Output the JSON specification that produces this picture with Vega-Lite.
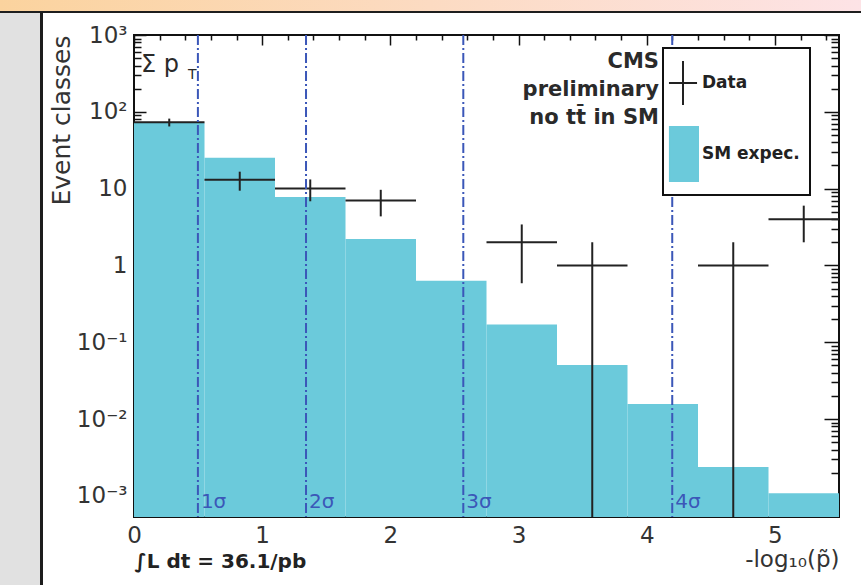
{
  "$schema": "https://vega.github.io/schema/vega-lite/v6.json",
  "padding": 0,
  "spacing": 0,
  "background": "white",
  "config": {
    "view": {"stroke": null},
    "axis": {"grid": false, "domain": false},
    "concat": {"spacing": 0}
  },
  "datasets": {
    "hist": [
      {"lo": 0.0, "hi": 0.55, "sm": 72, "series": "SM expec."},
      {"lo": 0.55, "hi": 1.1, "sm": 25.3, "series": "SM expec."},
      {"lo": 1.1, "hi": 1.65, "sm": 7.8, "series": "SM expec."},
      {"lo": 1.65, "hi": 2.2, "sm": 2.2, "series": "SM expec."},
      {"lo": 2.2, "hi": 2.75, "sm": 0.63, "series": "SM expec."},
      {"lo": 2.75, "hi": 3.3, "sm": 0.17, "series": "SM expec."},
      {"lo": 3.3, "hi": 3.85, "sm": 0.0506, "series": "SM expec."},
      {"lo": 3.85, "hi": 4.4, "sm": 0.0157, "series": "SM expec."},
      {"lo": 4.4, "hi": 4.95, "sm": 0.00237, "series": "SM expec."},
      {"lo": 4.95, "hi": 5.5, "sm": 0.00108, "series": "SM expec."}
    ],
    "obs": [
      {"x": 0.275, "xlo": 0.0, "xhi": 0.55, "n": 73, "elo": 64.46, "ehi": 81.54},
      {"x": 0.825, "xlo": 0.55, "xhi": 1.1, "n": 13, "elo": 9.39, "ehi": 16.61},
      {"x": 1.375, "xlo": 1.1, "xhi": 1.65, "n": 10, "elo": 6.84, "ehi": 13.16},
      {"x": 1.925, "xlo": 1.65, "xhi": 2.2, "n": 7, "elo": 4.35, "ehi": 9.65},
      {"x": 3.025, "xlo": 2.75, "xhi": 3.3, "n": 2, "elo": 0.586, "ehi": 3.414},
      {"x": 3.575, "xlo": 3.3, "xhi": 3.85, "n": 1, "elo": 0, "ehi": 2},
      {"x": 4.675, "xlo": 4.4, "xhi": 4.95, "n": 1, "elo": 0, "ehi": 2},
      {"x": 5.225, "xlo": 4.95, "xhi": 5.5, "n": 4, "elo": 2, "ehi": 6}
    ],
    "sigma": [
      {"sig": 0.4985, "lab": "1σ"},
      {"sig": 1.342, "lab": "2σ"},
      {"sig": 2.569, "lab": "3σ"},
      {"sig": 4.199, "lab": "4σ"}
    ]
  },
  "vconcat": [
    {
      "data": {"values": []},
      "mark": "rect",
      "width": 861,
      "height": 11,
      "view": {"stroke": null, "fill": {"gradient": "linear", "stops": [{"offset": 0, "color": "#fbd39e"}, {"offset": 0.5, "color": "#fcdbc2"}, {"offset": 1, "color": "#fde3e6"}]}}
    },
    {
      "data": {"values": []},
      "mark": "rect",
      "width": 861,
      "height": 2,
      "view": {"stroke": null, "fill": "#1e1e1e"}
    },
    {
      "hconcat": [
        {
          "data": {"values": []},
          "mark": "rect",
          "width": 43,
          "height": 572,
          "view": {"stroke": null, "fill": {"gradient": "linear", "stops": [{"offset": 0, "color": "#e1e1e1"}, {"offset": 0.93, "color": "#e1e1e1"}, {"offset": 0.931, "color": "#1c1c1c"}, {"offset": 1, "color": "#1c1c1c"}]}}
        },
        {
          "spacing": 0,
          "vconcat": [
            {
              "data": {"values": []},
              "mark": "rect",
              "width": 705,
              "height": 10,
              "view": {"stroke": null}
            },
            {
              "width": 705,
              "height": 482,
              "view": {"stroke": "#111111", "strokeWidth": 2, "fill": "white"},
              "layer": [
                {
                  "data": {"name": "hist"},
                  "mark": {"type": "bar"},
                  "encoding": {
                    "x": {"field": "lo", "type": "quantitative", "scale": {"domain": [0, 5.5], "nice": false, "zero": false},
                      "axis": {"orient": "bottom", "values": [0, 1, 2, 3, 4, 5], "ticks": false, "domain": false, "labelFont": "DejaVu Sans", "labelFontSize": 23, "labelColor": "#333333", "labelPadding": 7, "labelFlush": false, "labelOverlap": false,
                        "title": "-log₁₀(p̃)", "titleFont": "DejaVu Sans", "titleFontSize": 23, "titleFontWeight": "normal", "titleColor": "#333333", "titleAnchor": "end", "titlePadding": 1}},
                    "x2": {"field": "hi"},
                    "y": {"field": "sm", "type": "quantitative", "scale": {"type": "log", "domain": [0.00053, 1000], "nice": false, "clamp": true},
                      "axis": {"orient": "left", "values": [0.001, 0.01, 0.1, 1, 10, 100, 1000], "ticks": false, "domain": false, "labelOverlap": false, "labelFlush": false,
                        "labelExpr": "datum.value >= 999 ? '10³' : datum.value >= 99 ? '10²' : datum.value >= 9 ? '10' : datum.value >= 0.9 ? '1' : datum.value >= 0.09 ? '10⁻¹' : datum.value >= 0.009 ? '10⁻²' : '10⁻³'",
                        "labelFont": "DejaVu Sans", "labelFontSize": 23, "labelColor": "#333333", "labelPadding": 7,
                        "title": "Event classes", "titleFont": "DejaVu Sans", "titleFontSize": 25, "titleFontWeight": "normal", "titleColor": "#333333", "titleAnchor": "end", "titlePadding": 2}},
                    "y2": {"datum": 0.00053},
                    "color": {"field": "series", "type": "nominal",
                      "scale": {"domain": ["Data", "SM expec."], "range": ["#222222", "#6bcadb"]},
                      "legend": {"orient": "none", "legendX": 663, "legendY": 48, "title": null, "symbolSize": 2304, "padding": 10, "rowPadding": 13, "labelOffset": -21,
                        "symbolType": {"expr": "datum.value === 'Data' ? 'M-1.21,0H-0.04M-0.625,-0.92V0.92' : 'M-1.17,-1.125H0V1.125H-1.17Z'"},
                        "symbolStrokeColor": {"expr": "datum.value === 'Data' ? '#222222' : '#6bcadb'"},
                        "symbolStrokeWidth": 2,
                        "symbolOpacity": 1,
                        "labelFont": "DejaVu Sans", "labelFontWeight": "bold", "labelFontSize": 17, "labelColor": "#222222", "fillColor": "white", "strokeColor": "#111111",
                        "encode": {"legend": {"update": {"strokeWidth": {"value": 2}}}}}}
                  }
                },
                {
                  "data": {"name": "obs"},
                  "mark": {"type": "rule", "color": "#222222", "strokeWidth": 2},
                  "encoding": {
                    "x": {"field": "xlo", "type": "quantitative",
                      "axis": {"orient": "top", "values": [0, 1, 2, 3, 4, 5], "labels": false, "domain": false, "tickSize": -10, "tickColor": "#111111", "tickWidth": 1.5, "title": null}},
                    "x2": {"field": "xhi"},
                    "y": {"field": "n", "type": "quantitative",
                      "axis": {"orient": "right", "values": [0.001, 0.01, 0.1, 1, 10, 100, 1000], "labels": false, "domain": false, "tickSize": -15, "tickColor": "#111111", "tickWidth": 1.5, "title": null}}
                  }
                },
                {
                  "data": {"name": "obs"},
                  "mark": {"type": "rule", "color": "#222222", "strokeWidth": 2},
                  "encoding": {
                    "x": {"field": "x", "type": "quantitative",
                      "axis": {"orient": "top", "values": [0.2, 0.4, 0.6, 0.8, 1.2, 1.4, 1.6, 1.8, 2.2, 2.4, 2.6, 2.8, 3.2, 3.4, 3.6, 3.8, 4.2, 4.4, 4.6, 4.8, 5.2, 5.4], "labels": false, "domain": false, "tickSize": -5, "tickColor": "#111111", "tickWidth": 1.5, "title": null}},
                    "y": {"field": "ehi", "type": "quantitative",
                      "axis": {"orient": "right", "values": [0.0006, 0.0007, 0.0008, 0.0009, 0.002, 0.003, 0.004, 0.005, 0.006, 0.007, 0.008, 0.009, 0.02, 0.03, 0.04, 0.05, 0.06, 0.07, 0.08, 0.09, 0.2, 0.3, 0.4, 0.5, 0.6, 0.7, 0.8, 0.9, 2, 3, 4, 5, 6, 7, 8, 9, 20, 30, 40, 50, 60, 70, 80, 90, 200, 300, 400, 500, 600, 700, 800, 900], "labels": false, "domain": false, "tickSize": -8, "tickColor": "#111111", "tickWidth": 1.5, "title": null}},
                    "y2": {"field": "elo"}
                  }
                },
                {
                  "data": {"name": "sigma"},
                  "mark": {"type": "rule", "color": "#3b57b8", "strokeWidth": 2, "strokeDash": [10, 3, 2, 3]},
                  "encoding": {
                    "x": {"field": "sig", "type": "quantitative", "axis": null}
                  }
                },
                {
                  "data": {"name": "sigma"},
                  "mark": {"type": "text", "align": "left", "baseline": "middle", "dx": 3, "font": "DejaVu Sans", "fontSize": 20, "color": "#3b57b8"},
                  "encoding": {
                    "x": {"field": "sig", "type": "quantitative",
                      "axis": {"orient": "bottom", "values": [0], "labels": false, "ticks": false, "domain": false, "title": "∫L dt = 36.1/pb", "titleAnchor": "start", "titleFont": "DejaVu Sans", "titleFontWeight": "bold", "titleFontSize": 20, "titleColor": "#222222", "titlePadding": 34}},
                    "y": {"datum": 0.00083, "type": "quantitative",
                      "axis": {"orient": "left", "values": [0.001, 0.01, 0.1, 1, 10, 100, 1000], "labels": false, "domain": false, "tickSize": -12, "tickColor": "#111111", "tickWidth": 1.5, "title": null}},
                    "text": {"field": "lab"}
                  }
                },
                {
                  "data": {"values": [{"note": "CMS\npreliminary\nno tt̄ in SM"}]},
                  "mark": {"type": "text", "align": "right", "baseline": "alphabetic", "lineBreak": "\n", "lineHeight": 28, "font": "DejaVu Sans", "fontSize": 21, "fontWeight": "bold", "color": "#2a2a2a"},
                  "encoding": {
                    "x": {"datum": 4.095, "type": "quantitative", "axis": null},
                    "y": {"datum": 377, "type": "quantitative",
                      "axis": {"orient": "left", "values": [0.0006, 0.0007, 0.0008, 0.0009, 0.002, 0.003, 0.004, 0.005, 0.006, 0.007, 0.008, 0.009, 0.02, 0.03, 0.04, 0.05, 0.06, 0.07, 0.08, 0.09, 0.2, 0.3, 0.4, 0.5, 0.6, 0.7, 0.8, 0.9, 2, 3, 4, 5, 6, 7, 8, 9, 20, 30, 40, 50, 60, 70, 80, 90, 200, 300, 400, 500, 600, 700, 800, 900], "labels": false, "domain": false, "tickSize": -7, "tickColor": "#111111", "tickWidth": 1.5, "title": null}},
                    "text": {"field": "note"}
                  }
                },
                {
                  "data": {"values": [{"note": "Σ p"}]},
                  "mark": {"type": "text", "align": "left", "baseline": "alphabetic", "font": "DejaVu Sans", "fontSize": 24, "color": "#2a2a2a"},
                  "encoding": {
                    "x": {"datum": 0.055, "type": "quantitative", "axis": null},
                    "y": {"datum": 334, "type": "quantitative", "axis": null},
                    "text": {"field": "note"}
                  }
                },
                {
                  "data": {"values": [{"note": "T"}]},
                  "mark": {"type": "text", "align": "left", "baseline": "alphabetic", "font": "DejaVu Sans", "fontSize": 14, "color": "#2a2a2a"},
                  "encoding": {
                    "x": {"datum": 0.421, "type": "quantitative", "axis": null},
                    "y": {"datum": 271, "type": "quantitative", "axis": null},
                    "text": {"field": "note"}
                  }
                }
              ],
              "resolve": {"axis": {"x": "independent", "y": "independent"}}
            }
          ]
        }
      ],
      "spacing": 5
    }
  ]
}
